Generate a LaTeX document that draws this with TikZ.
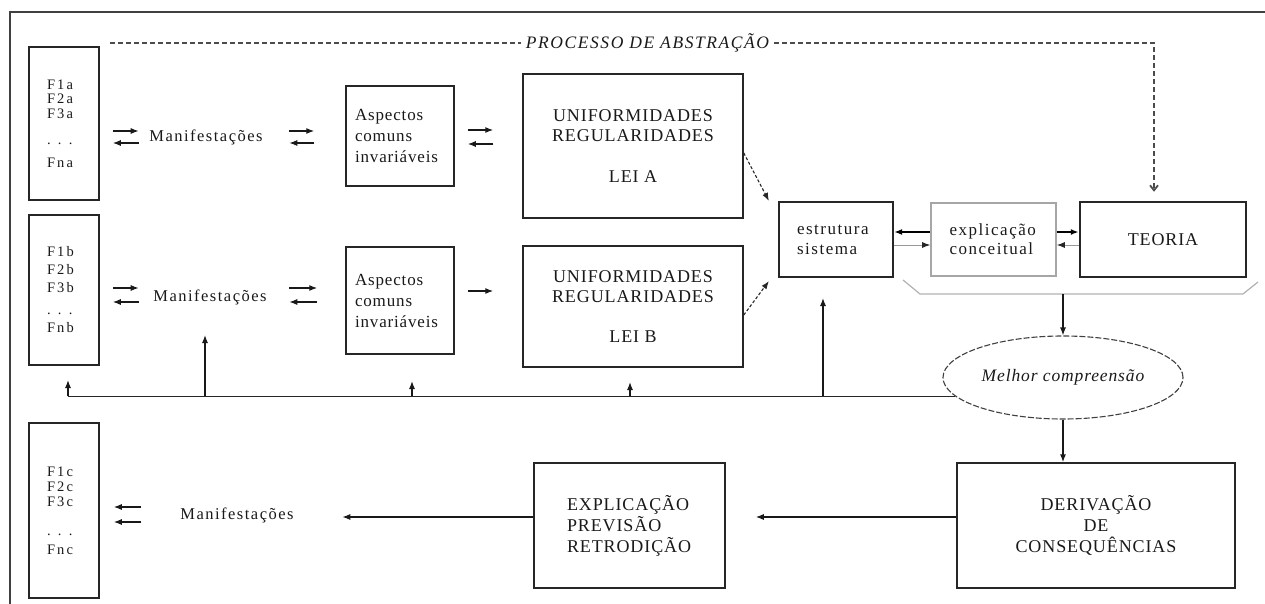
\documentclass[tikz,border=0pt]{standalone}
\usepackage{fontspec}
\setmainfont{Liberation Serif}[LetterSpace=5]
\newfontfamily\widefont{Liberation Serif}[LetterSpace=9]
\newfontfamily\widerfont{Liberation Serif}[LetterSpace=15]
\usetikzlibrary{arrows.meta,shapes.geometric}
\begin{document}
\begin{tikzpicture}[x=1pt,y=-1pt,
  every node/.style={text=black!90},
  box/.style={draw=black!85, line width=1.5pt, inner sep=0pt, rectangle},
  fbox/.style={box, minimum width=70pt, text width=34pt, align=left},
  ffont/.style={font=\widerfont\fontsize{14.5}{#1}\selectfont},
  manif/.style={inner sep=0pt, font=\widefont\fontsize{16.5}{18}\selectfont},
  aspbox/.style={box, minimum width=108pt, text width=90pt, align=left, font=\fontsize{17}{21}\selectfont},
  unibox/.style={box, minimum width=220pt, align=center, font=\fontsize{18}{20}\selectfont},
  bigbox/.style={box, align=center, font=\fontsize{18}{21}\selectfont},
  arr/.style={-{Latex[length=8pt,width=6pt]}, line width=1.2pt, black!90},
  arrthick/.style={-{Latex[length=8pt,width=6pt]}, line width=2.2pt, black},
  arrgray/.style={-{Latex[length=8pt,width=6pt,color=black!85]}, line width=0.9pt, black!40},
  dasharr/.style={-{Latex[length=8pt,width=6pt]}, line width=1.1pt, dash pattern=on 3pt off 2pt, black!85},
  procline/.style={line width=1.8pt, dash pattern=on 5pt off 3pt, black!70}
]
\useasboundingbox (0,0) rectangle (1265,604);
% frame
\draw[line width=1.6pt, black!75] (10,604) -- (10,12) -- (1265,12);

% left F boxes
\node[fbox, ffont=14.5, minimum height=153pt] (fa) at (64,123.5) {F1a\\F2a\\F3a\\[11.5pt]. . .\\[8.5pt]Fna};
\node[fbox, ffont=18, minimum height=150pt] (fb) at (64,290) {F1b\\F2b\\F3b\\[4pt]. . .\\Fnb};
\node[fbox, ffont=15, minimum height=175pt] (fc) at (64,510.5) {F1c\\F2c\\F3c\\[14pt]. . .\\[4pt]Fnc};

% Manifestacoes
\node[manif] (ma) at (206,137) {Manifestações};
\node[manif] (mb) at (210,297) {Manifestações};
\node[manif] (mc) at (237,515) {Manifestações};

% Aspectos
\node[aspbox, minimum height=100pt] (aspA) at (400,136) {Aspectos\\comuns\\invariáveis};
\node[aspbox, minimum height=107pt] (aspB) at (400,300.5) {Aspectos\\comuns\\invariáveis};

% Uniformidades
\node[unibox, minimum height=144pt] (uA) at (633,146) {UNIFORMIDADES\\REGULARIDADES\\[21pt]LEI A};
\node[unibox, minimum height=121pt] (uB) at (633,306.5) {UNIFORMIDADES\\REGULARIDADES\\[20pt]LEI B};

% right group
\node[box, line width=2.2pt, minimum width=114pt, minimum height=75pt, text width=78pt, align=left, font=\widefont\fontsize{17}{20}\selectfont] (estr) at (836,239.5) {estrutura\\sistema};
\node[box, draw=black!35, line width=1.6pt, minimum width=125pt, minimum height=73pt, text width=88pt, align=left, font=\widefont\fontsize{17}{19}\selectfont] (expl) at (993.5,239.5) {explicação\\conceitual};
\node[box, line width=2.5pt, minimum width=166pt, minimum height=75pt, font=\fontsize{18}{21}\selectfont] (teo) at (1163,239.5) {TEORIA};

\node[ellipse, draw=black!75, dash pattern=on 6pt off 2pt, line width=1.1pt, minimum width=240pt, minimum height=83pt, inner sep=0pt, font=\itshape\fontsize{17.5}{20}\selectfont] (ell) at (1063,377.5) {Melhor compreensão};

% bottom row
\node[box, minimum width=191pt, minimum height=125pt, text width=125pt, align=left, font=\fontsize{18}{21}\selectfont] (expv) at (629.5,525.5) {EXPLICAÇÃO\\PREVISÃO\\RETRODIÇÃO};
\node[bigbox, minimum width=278pt, minimum height=125pt] (deriv) at (1096,525.5) {DERIVAÇÃO\\DE\\CONSEQUÊNCIAS};

% processo de abstracao
\node[inner xsep=5pt, inner ysep=0pt, font=\widefont\itshape\fontsize{17.5}{20}\selectfont] (proc) at (647.5,43) {PROCESSO DE ABSTRAÇÃO};
\coordinate (pstart) at (110,43);
\coordinate (pcorner) at (1154,43);
\draw[procline] (pstart) -- (proc.west);
\draw[procline, -{Straight Barb[length=5pt,width=8pt]}, shorten >=9pt] (proc.east) -- (pcorner) -- (pcorner |- teo.north);

% row a arrows
\draw[arr, shorten <=13pt, shorten >=10.5pt] (fa.east |- 0,131) -- (ma.west |- 0,131);
\draw[arr, shorten <=10.5pt, shorten >=13pt] (ma.west |- 0,143) -- (fa.east |- 0,143);
\draw[arr, shorten <=26.5pt, shorten >=31pt] (ma.east |- 0,131) -- (aspA.west |- 0,131);
\draw[arr, shorten <=31pt, shorten >=26.5pt] (aspA.west |- 0,143) -- (ma.east |- 0,143);
\draw[arr, shorten <=13pt, shorten >=29pt] (aspA.east |- 0,130) -- (uA.west |- 0,130);
\draw[arr, shorten <=29pt, shorten >=13pt] (uA.west |- 0,144) -- (aspA.east |- 0,144);

% row b arrows
\draw[arr, shorten <=13pt, shorten >=14.5pt] (fb.east |- 0,288) -- (mb.west |- 0,288);
\draw[arr, shorten <=14.5pt, shorten >=13pt] (mb.west |- 0,302) -- (fb.east |- 0,302);
\draw[arr, shorten <=22.5pt, shorten >=28pt] (mb.east |- 0,288) -- (aspB.west |- 0,288);
\draw[arr, shorten <=28pt, shorten >=22.5pt] (aspB.west |- 0,302) -- (mb.east |- 0,302);
\draw[arr, shorten <=13pt, shorten >=29pt] (aspB.east |- 0,291) -- (uB.west |- 0,291);

% row c arrows
\draw[arr, shorten <=39.5pt, shorten >=14pt] (mc.west |- 0,507) -- (fc.east |- 0,507);
\draw[arr, shorten <=39.5pt, shorten >=14pt] (mc.west |- 0,522) -- (fc.east |- 0,522);
\draw[arr, shorten >=48.5pt] (expv.west |- 0,517) -- (mc.east |- 0,517);
\draw[arr, shorten >=30pt] (deriv.west |- 0,517) -- (expv.east |- 0,517);

% dashed arrows to estrutura
\draw[dasharr] ([yshift=-7pt]uA.east) -- ([xshift=-9pt]estr.north west);
\draw[dasharr] ([yshift=-8.5pt]uB.east) -- ([xshift=-9pt,yshift=-3pt]estr.south west);

% estrutura / explicacao / teoria arrows
\draw[arrthick] (expl.west |- 0,232) -- (estr.east |- 0,232);
\draw[arrgray] (estr.east |- 0,245) -- (expl.west |- 0,245);
\draw[arrthick] (expl.east |- 0,232) -- (teo.west |- 0,232);
\draw[arrgray] (teo.west |- 0,245) -- (expl.east |- 0,245);

% bracket
\draw[black!30, line width=1.2pt] (903,280) -- (920,294) -- (1243,294) -- (1258,282);
\coordinate (brk) at (1063,294);
\draw[arr] (brk) -- (ell.north);
\draw[arr] (ell.south) -- (ell.south |- deriv.north);

% feedback line
\coordinate (fbL) at (68,396);
\draw[line width=1.6pt, black!85] (ell.190) -- (ell.190 -| fbL);
\coordinate (t1) at (68,380);
\coordinate (t2) at (205,335);
\coordinate (t3) at (412,381);
\coordinate (t4) at (630,382);
\coordinate (t5) at (823,298);
\foreach \t in {t1,t2,t3,t4,t5}{
  \draw[arr] (\t |- ell.190) -- (\t);
}
\end{tikzpicture}
\end{document}
